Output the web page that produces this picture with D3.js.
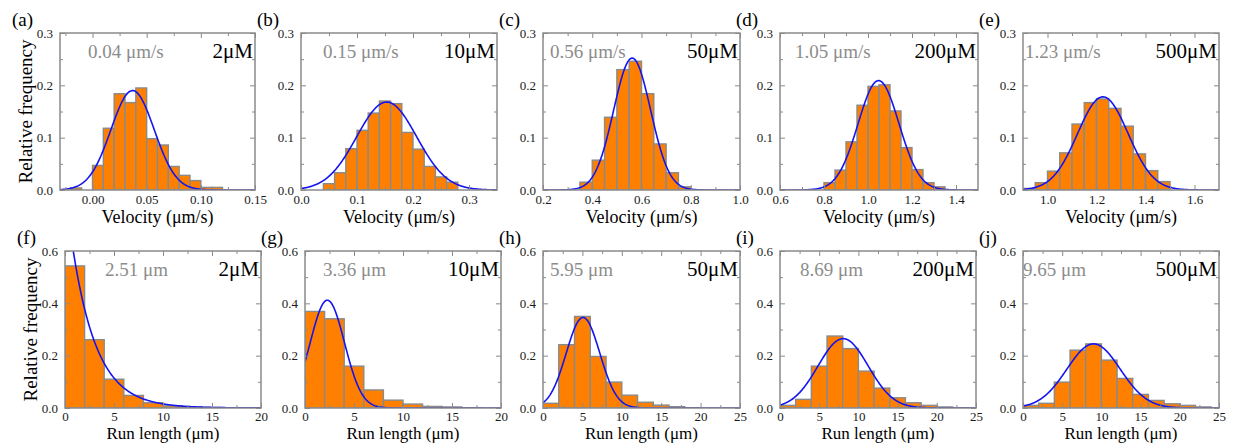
<!DOCTYPE html>
<html>
<head>
<meta charset="utf-8">
<script src="https://cdn.jsdelivr.net/npm/d3@7"></script>
<style>
  body { margin: 0; background: #fff; }
  svg { display: block; font-family: "Liberation Serif", "Times New Roman", serif; }
</style>
</head>
<body>
<div id="chart"></div>
<script>
// ---- data ----
const concentrations = ['2μM', '10μM', '50μM', '200μM', '500μM'];
const velocityLabels = ['0.04 μm/s', '0.15 μm/s', '0.56 μm/s', '1.05 μm/s', '1.23 μm/s'];
const runLengthLabels = ['2.51 μm', '3.36 μm', '5.95 μm', '8.69 μm', '9.65 μm'];
const topLetters = ['(a)', '(b)', '(c)', '(d)', '(e)'];
const bottomLetters = ['(f)', '(g)', '(h)', '(i)', '(j)'];

// velocity histograms
const velDomains = [[-0.03, 0.15], [0, 0.35], [0.2, 1.0], [0.6, 1.5], [0.9, 1.7]];
const velTicks = [[0, 0.05, 0.10, 0.15], [0, 0.1, 0.2, 0.3], [0.2, 0.4, 0.6, 0.8, 1.0],
                  [0.6, 0.8, 1.0, 1.2, 1.4], [1.0, 1.2, 1.4, 1.6]];
const velTickDecimals = [2, 1, 1, 1, 1];
const velBinStart = [-0.02, 0.04, 0.35, 0.80, 0.90];
const velBinWidth = [0.01, 0.02, 0.05, 0.05, 0.05];
const velFreq = [
  [0.004, 0, 0.047, 0.118, 0.184, 0.167, 0.195, 0.098, 0.086, 0.045, 0.028, 0.018, 0.005, 0.005],
  [0.012, 0.033, 0.079, 0.114, 0.147, 0.170, 0.165, 0.110, 0.078, 0.045, 0.025, 0.015],
  [0.015, 0.057, 0.139, 0.230, 0.246, 0.184, 0.088, 0.033, 0.006],
  [0.014, 0.038, 0.092, 0.162, 0.198, 0.201, 0.151, 0.081, 0.039, 0.014, 0.006],
  [0.003, 0.014, 0.036, 0.071, 0.126, 0.167, 0.174, 0.156, 0.122, 0.069, 0.037, 0.016]
];
// gaussian fits (centre, width, peak height)
const velFitMean = [0.037, 0.153, 0.562, 1.048, 1.226];
const velFitSd = [0.020, 0.0535, 0.075, 0.093, 0.103];
const velFitPeak = [0.190, 0.168, 0.252, 0.209, 0.178];

// run length histograms (bin width 2 µm, starting at 0)
const runDomains = [[0, 20], [0, 20], [0, 25], [0, 25], [0, 25]];
const runTicks = [[0, 5, 10, 15, 20], [0, 5, 10, 15, 20], [0, 5, 10, 15, 20, 25],
                  [0, 5, 10, 15, 20, 25], [0, 5, 10, 15, 20, 25]];
const runBinWidth = 2;
const runFreq = [
  [0.543, 0.261, 0.110, 0.048, 0.020, 0.008, 0.004, 0.002],
  [0.369, 0.341, 0.160, 0.069, 0.030, 0.015, 0.006, 0.004, 0.001],
  [0.018, 0.242, 0.350, 0.197, 0.099, 0.049, 0.022, 0.011, 0.005, 0.001],
  [0.010, 0.033, 0.160, 0.275, 0.227, 0.141, 0.076, 0.039, 0.020, 0.010, 0.004, 0.001],
  [0.010, 0.018, 0.099, 0.221, 0.245, 0.183, 0.113, 0.052, 0.029, 0.016, 0.010, 0.004]
];
// first panel is an exponential decay fit, the rest gaussian
const runFitType = ['exp', 'gauss', 'gauss', 'gauss', 'gauss'];
const runFitMean = [0, 2.28, 5.08, 8.05, 9.0];
const runFitSd = [2.51, 1.75, 2.13, 3.2, 3.4];
const runFitPeak = [0.84, 0.412, 0.346, 0.265, 0.245];

const velYTicks = [0, 0.1, 0.2, 0.3];
const runYTicks = [0, 0.2, 0.4, 0.6];

// ---- layout ----
const width = 1238, height = 443;
const topRow = { y0: 33, y1: 190, xs: [[60, 255], [301, 497], [543, 740], [780, 978], [1023, 1219]],
                 noteDx: [28, 22, 7, 15, 2], titleDy: 33, tickPad: 5, titleSize: 18 };
const bottomRow = { y0: 251, y1: 408, xs: [[65, 261], [305, 501], [543, 740], [780, 976], [1023, 1219]],
                    noteDx: [40, 18, 7, 20, 0], titleDy: 31, tickPad: 3.5, titleSize: 17 };

const orange = '#ff8000';
const barStroke = '#8a8a8a';
const frameColor = '#8a8a8a';
const fitColor = '#1414f0';

const svg = d3.select('#chart').append('svg')
  .attr('width', width)
  .attr('height', height);

const midpoints = (ticks) => {
  const out = [];
  for (let i = 0; i < ticks.length - 1; i++) out.push((ticks[i] + ticks[i + 1]) / 2);
  const step = ticks[1] - ticks[0];
  out.push(ticks[0] - step / 2, ticks[ticks.length - 1] + step / 2);
  return out;
};

function drawPanel(idx, o) {
  const [x0, x1] = o.xr;
  const x = d3.scaleLinear().domain(o.domain).range([x0, x1]);
  const y = d3.scaleLinear().domain(o.yDomain).range([o.y1, o.y0]);
  const g = svg.append('g');
  const clipId = 'clip-' + o.id;

  g.append('clipPath').attr('id', clipId)
    .append('rect')
    .attr('x', x0).attr('y', o.y0)
    .attr('width', x1 - x0).attr('height', o.y1 - o.y0);

  const bars = o.freq.map((v, i) => ({ a: o.binStart + i * o.binWidth, v }))
    .filter((d) => d.v > 0);

  g.append('g').attr('clip-path', `url(#${clipId})`)
    .selectAll('rect')
    .data(bars)
    .enter()
    .append('rect')
    .attr('x', (d) => x(d.a))
    .attr('y', (d) => y(d.v))
    .attr('width', (d) => x(d.a + o.binWidth) - x(d.a))
    .attr('height', (d) => y(0) - y(d.v))
    .attr('fill', orange)
    .attr('stroke', barStroke)
    .attr('stroke-width', 1.4);

  // fit curve
  const n = 300;
  const pts = d3.range(n + 1).map((k) => {
    const xv = o.domain[0] + (o.domain[1] - o.domain[0]) * k / n;
    let yv;
    if (o.fit.type === 'exp') yv = o.fit.peak * Math.exp(-(xv - o.fit.mean) / o.fit.sd);
    else yv = o.fit.peak * Math.exp(-Math.pow(xv - o.fit.mean, 2) / (2 * o.fit.sd * o.fit.sd));
    return [xv, Math.min(yv, o.yDomain[1] * 1.2)];
  });
  g.append('path')
    .attr('clip-path', `url(#${clipId})`)
    .attr('d', d3.line().x((d) => x(d[0])).y((d) => y(d[1]))(pts))
    .attr('fill', 'none')
    .attr('stroke', fitColor)
    .attr('stroke-width', 1.6);

  // axes, ticks pointing inward on all four sides
  const fmtX = d3.format(`.${o.xDecimals}f`);
  const yMinor = midpoints(o.yTicks).filter((v) => v > o.yDomain[0] && v < o.yDomain[1]);
  const xMinor = midpoints(o.xTicks).filter((v) => v > o.domain[0] && v < o.domain[1]);

  const styleAxis = (sel) => {
    sel.select('.domain').remove();
    sel.selectAll('line').attr('stroke', frameColor).attr('stroke-width', 1);
    sel.selectAll('text').attr('fill', '#1a1a1a').attr('font-size', 13)
      .attr('font-family', '"Liberation Serif", serif');
  };

  g.append('g').attr('transform', `translate(0,${o.y1})`)
    .call(d3.axisBottom(x).tickValues(o.xTicks).tickSize(-5).tickPadding(o.tickPad).tickFormat(fmtX))
    .call(styleAxis);
  g.append('g').attr('transform', `translate(0,${o.y1})`)
    .call(d3.axisBottom(x).tickValues(xMinor).tickSize(-3).tickFormat(''))
    .call(styleAxis);
  g.append('g').attr('transform', `translate(0,${o.y0})`)
    .call(d3.axisTop(x).tickValues(o.xTicks).tickSize(-5).tickFormat(''))
    .call(styleAxis);
  g.append('g').attr('transform', `translate(0,${o.y0})`)
    .call(d3.axisTop(x).tickValues(xMinor).tickSize(-3).tickFormat(''))
    .call(styleAxis);

  g.append('g').attr('transform', `translate(${x0},0)`)
    .call(d3.axisLeft(y).tickValues(o.yTicks).tickSize(-5).tickPadding(7).tickFormat(d3.format('.1f')))
    .call(styleAxis);
  g.append('g').attr('transform', `translate(${x0},0)`)
    .call(d3.axisLeft(y).tickValues(yMinor).tickSize(-3).tickFormat(''))
    .call(styleAxis);
  g.append('g').attr('transform', `translate(${x1},0)`)
    .call(d3.axisRight(y).tickValues(o.yTicks).tickSize(-5).tickFormat(''))
    .call(styleAxis);
  g.append('g').attr('transform', `translate(${x1},0)`)
    .call(d3.axisRight(y).tickValues(yMinor).tickSize(-3).tickFormat(''))
    .call(styleAxis);

  // frame
  g.append('rect')
    .attr('x', x0).attr('y', o.y0)
    .attr('width', x1 - x0).attr('height', o.y1 - o.y0)
    .attr('fill', 'none')
    .attr('stroke', frameColor)
    .attr('stroke-width', 1.5);

  // texts
  g.append('text')
    .attr('x', x0 + o.noteDx).attr('y', o.y0 + 25)
    .attr('font-size', 19).attr('fill', '#8c8c8c')
    .text(o.note);
  g.append('text')
    .attr('x', x1 - 2).attr('y', o.y0 + 25)
    .attr('text-anchor', 'end')
    .attr('font-size', 21).attr('fill', '#000')
    .text(o.conc);
  g.append('text')
    .attr('x', idx === 0 ? x0 - 48 : x0 - 44).attr('y', o.y0 - 7)
    .attr('font-size', 19).attr('fill', '#000')
    .text(o.letter);
  g.append('text')
    .attr('x', (x0 + x1) / 2).attr('y', o.y1 + o.titleDy)
    .attr('text-anchor', 'middle')
    .attr('font-size', o.titleSize).attr('fill', '#000')
    .text(o.xTitle);
  if (idx === 0) {
    g.append('text')
      .attr('transform', `translate(${x0 - 28},${(o.y0 + o.y1) / 2}) rotate(-90)`)
      .attr('text-anchor', 'middle')
      .attr('font-size', 19).attr('fill', '#000')
      .text('Relative frequency');
  }
}

concentrations.forEach((c, i) => {
  drawPanel(i, {
    id: 'v' + i,
    xr: topRow.xs[i], y0: topRow.y0, y1: topRow.y1,
    domain: velDomains[i], yDomain: [0, 0.3],
    xTicks: velTicks[i], xDecimals: velTickDecimals[i], yTicks: velYTicks,
    binStart: velBinStart[i], binWidth: velBinWidth[i], freq: velFreq[i],
    fit: { type: 'gauss', mean: velFitMean[i], sd: velFitSd[i], peak: velFitPeak[i] },
    note: velocityLabels[i], noteDx: topRow.noteDx[i], conc: c,
    letter: topLetters[i], xTitle: 'Velocity (μm/s)',
    titleDy: topRow.titleDy, tickPad: topRow.tickPad, titleSize: topRow.titleSize
  });
  drawPanel(i, {
    id: 'r' + i,
    xr: bottomRow.xs[i], y0: bottomRow.y0, y1: bottomRow.y1,
    domain: runDomains[i], yDomain: [0, 0.6],
    xTicks: runTicks[i], xDecimals: 0, yTicks: runYTicks,
    binStart: 0, binWidth: runBinWidth, freq: runFreq[i],
    fit: { type: runFitType[i], mean: runFitMean[i], sd: runFitSd[i], peak: runFitPeak[i] },
    note: runLengthLabels[i], noteDx: bottomRow.noteDx[i], conc: c,
    letter: bottomLetters[i], xTitle: 'Run length (μm)',
    titleDy: bottomRow.titleDy, tickPad: bottomRow.tickPad, titleSize: bottomRow.titleSize
  });
});
</script>
</body>
</html>
